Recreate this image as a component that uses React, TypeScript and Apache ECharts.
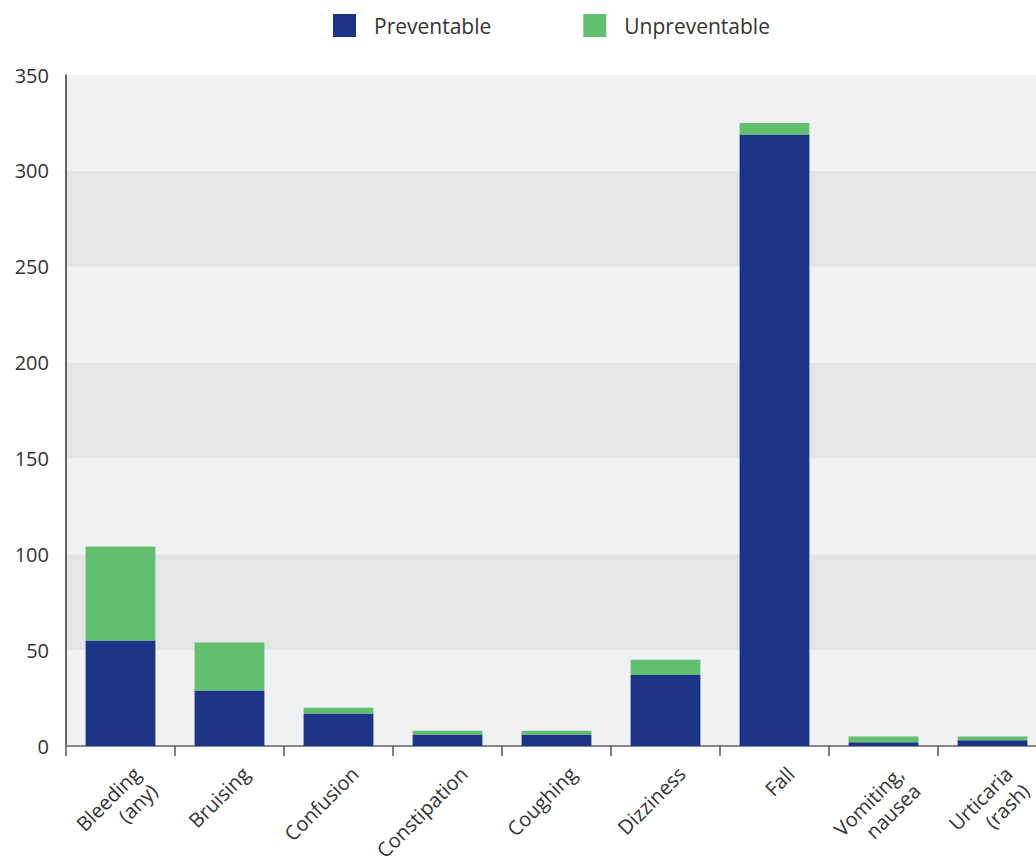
import React, { useEffect, useRef } from "react";
import * as echarts from "echarts";

const categories = [
  "Bleeding\n(any)",
  "Bruising",
  "Confusion",
  "Constipation",
  "Coughing",
  "Dizziness",
  "Fall",
  "Vomiting,\nnausea",
  "Urticaria\n(rash)",
];
const preventable = [55, 29, 17, 6, 6, 37, 319, 2, 3];
const unpreventable = [49, 25, 3, 2, 2, 8, 6, 3, 2];
const yTicks = [0, 50, 100, 150, 200, 250, 300, 350];

export default function App() {
  const ref = useRef<HTMLDivElement>(null);
  useEffect(() => {
    const chart = echarts.init(ref.current!, null, { renderer: "svg" });
    const font = "'Open Sans', sans-serif";
    chart.setOption({
      animation: false,
      textStyle: { fontFamily: font },
      legend: {
        top: 9,
        left: 328,
        itemWidth: 23,
        itemHeight: 23,
        itemGap: 92,
        icon: "rect",
        textStyle: { fontSize: 21, color: "#333", fontFamily: font, padding: [0, 0, 0, 13] },
        data: ["Preventable", "Unpreventable"],
      },
      grid: {
        left: 66,
        top: 75,
        right: -11,
        bottom: 112,
        containLabel: false,
        outerBoundsMode: "none",
      },
      xAxis: {
        type: "category",
        data: categories,
        axisLine: { show: true, lineStyle: { color: "#888", width: 2 } },
        axisTick: { show: true, length: 10, alignWithLabel: false, lineStyle: { color: "#555", width: 1.5 } },
        axisLabel: {
          rotate: 45,
          interval: 0,
          fontSize: 20,
          color: "#333",
          margin: 8,
          lineHeight: 24,
          verticalAlign: "top",
          padding: [11, 0, 0, 0],
          fontFamily: font,
        },
      },
      yAxis: {
        type: "value",
        min: 0,
        max: yTicks[yTicks.length - 1],
        interval: 50,
        axisLine: { show: true, lineStyle: { color: "#333", width: 1.5 } },
        axisTick: { show: false },
        splitLine: { show: false },
        splitArea: { show: true, areaStyle: { color: ["#f0f1f3", "#e4e5e7"] } },
        axisLabel: { fontSize: 20, color: "#333", margin: 17, fontFamily: font },
      },
      series: [
        {
          name: "Preventable",
          type: "bar",
          stack: "total",
          data: preventable,
          barWidth: "64%",
          itemStyle: { color: "#1b3486" },
        },
        {
          name: "Unpreventable",
          type: "bar",
          stack: "total",
          data: unpreventable,
          barWidth: "64%",
          itemStyle: { color: "#62bf70" },
        },
      ],
    });
    return () => chart.dispose();
  }, []);
  return (
    <div
      ref={ref}
      style={{ position: "absolute", left: 0, top: 0, width: 1036, height: 858, background: "#fff" }}
    />
  );
}
